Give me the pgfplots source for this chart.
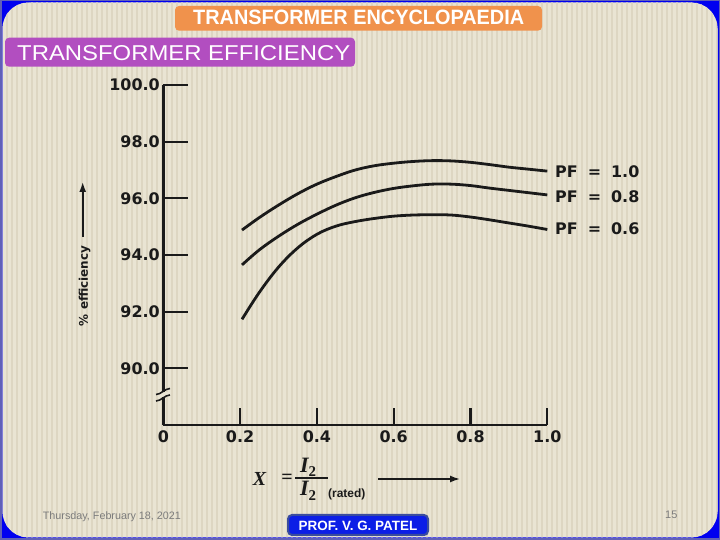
\documentclass[border=0pt]{standalone}
\usepackage{pgfplots}
\pgfplotsset{compat=1.18}
\usepackage{fontspec}
\setmainfont{Liberation Sans}
\newfontfamily\dvs{DejaVu Sans}
\newfontfamily\serif{Liberation Serif}
\usetikzlibrary{arrows.meta}
\definecolor{beige}{HTML}{E9E4D3}
\definecolor{stripe}{HTML}{DDD6C2}
\definecolor{frameblue}{HTML}{0000F0}
\definecolor{slate}{HTML}{6060B8}
\definecolor{orangebox}{HTML}{F0924C}
\definecolor{purplebox}{HTML}{B24EC0}
\definecolor{footblue}{HTML}{0C1EE6}
\definecolor{footedge}{HTML}{3A4C9E}
\definecolor{ink}{HTML}{1A1A1A}
\definecolor{dategray}{HTML}{7C7C7C}

\pgfplotstableread{
x y
0.205 94.88
0.25 95.32
0.30 95.76
0.35 96.16
0.40 96.50
0.45 96.77
0.50 97.00
0.55 97.15
0.60 97.24
0.65 97.30
0.70 97.33
0.75 97.32
0.80 97.27
0.85 97.19
0.90 97.10
0.95 97.03
1.00 96.96
}\pfone
\pgfplotstableread{
x y
0.205 93.65
0.25 94.18
0.30 94.66
0.35 95.08
0.40 95.44
0.45 95.76
0.50 96.02
0.55 96.21
0.60 96.35
0.65 96.44
0.70 96.50
0.75 96.50
0.80 96.45
0.85 96.36
0.90 96.28
0.95 96.20
1.00 96.12
}\pfeight
\pgfplotstableread{
x y
0.205 91.73
0.25 92.68
0.30 93.57
0.35 94.25
0.40 94.73
0.45 95.02
0.50 95.18
0.55 95.29
0.60 95.37
0.65 95.41
0.70 95.42
0.75 95.41
0.80 95.34
0.85 95.24
0.90 95.13
0.95 95.02
1.00 94.90
}\pfsix

\newcommand{\Itwo}{{\serif\bfseries\itshape I}\raisebox{-4.5bp}{\serif\bfseries\fontsize{15}{15}\selectfont 2}}

\begin{document}
\begin{tikzpicture}[x=1bp,y=1bp]
\useasboundingbox (0,0) rectangle (720,540);
% slide frame
\fill[slate] (0,0) rectangle (720,540);
\fill[frameblue] (1.5,1.5) rectangle (718.5,538.5);
\begin{scope}
\clip[rounded corners=26bp] (2.5,2.5) rectangle (717.5,537.5);
\fill[beige] (0,0) rectangle (720,540);
\foreach \i in {0,...,143} {\fill[stripe] (\i*5+1,0) rectangle ++(2,540);}
\end{scope}
% header boxes
\fill[orangebox, rounded corners=4bp] (175,509.3) rectangle (542,534);
\node[anchor=base west, inner sep=0pt, text=white] at (193,515) {\resizebox{331bp}{14.5bp}{\bfseries TRANSFORMER ENCYCLOPAEDIA}};
\fill[purplebox, rounded corners=4bp] (5,473.3) rectangle (355,502.3);
\node[anchor=base west, inner sep=0pt, text=white] at (17,479.5) {\resizebox{333bp}{15bp}{TRANSFORMER EFFICIENCY}};
% footer
\node[anchor=base west, inner sep=0pt, text=dategray, font=\fontsize{11}{12}\selectfont] at (42.7,20.5) {\resizebox{138bp}{!}{Thursday, February 18, 2021}};
\node[anchor=base west, inner sep=0pt, text=dategray, font=\fontsize{11}{12}\selectfont] at (665,21) {15};
\draw[footedge, line width=2bp, fill=footblue, rounded corners=4bp] (288,5) rectangle (428,25);
\node[anchor=base, inner sep=0pt, text=white, font=\bfseries\fontsize{13.5}{14}\selectfont] at (358,9.3) {PROF. V. G. PATEL};

\begin{axis}[
  at={(163.3bp,115bp)}, anchor=south west,
  scale only axis, width=384bp, height=340bp,
  xmin=0, xmax=1, ymin=88, ymax=100,
  axis x line*=bottom, axis y line*=left,
  axis line style={-, line width=2.6bp, ink},
  xtick={0,0.2,0.4,0.6,0.8,1.0},
  xticklabels={0,0.2,0.4,0.6,0.8,1.0},
  ytick={90,92,94,96,98,100},
  tick align=inside,
  major tick length=25bp,
  xtick style={/pgfplots/major tick length=17bp, line width=2.2bp, ink},
  ytick style={line width=1.8bp, ink},
  tick label style={font=\dvs\bfseries\fontsize{16}{16}\selectfont, text=ink},
  yticklabel style={/pgf/number format/.cd, fixed, fixed zerofill, precision=1, assume math mode=true},
  xticklabel style={yshift=-2bp},
  clip=false,
]
\addplot[ink, line width=2.8bp, smooth, tension=0.6] table[x=x,y=y] {\pfone};
\addplot[ink, line width=2.8bp, smooth, tension=0.6] table[x=x,y=y] {\pfeight};
\addplot[ink, line width=2.8bp, smooth, tension=0.6] table[x=x,y=y] {\pfsix};
\end{axis}

% axis break
\fill[beige] (158,143) rectangle (169,147.5);
\draw[ink, line width=1.6bp] (156,139) .. controls (161,139) and (165,145) .. (170,145);
\draw[ink, line width=1.6bp] (156,145.5) .. controls (161,145.5) and (165,151.5) .. (170,151.5);

% curve labels
\node[anchor=west, inner sep=0pt, text=ink, font=\dvs\bfseries\fontsize{16}{16}\selectfont] at (555,368.5) {PF\hspace{10bp}=\hspace{10bp}1.0};
\node[anchor=west, inner sep=0pt, text=ink, font=\dvs\bfseries\fontsize{16}{16}\selectfont] at (555,343.3) {PF\hspace{10bp}=\hspace{10bp}0.8};
\node[anchor=west, inner sep=0pt, text=ink, font=\dvs\bfseries\fontsize{16}{16}\selectfont] at (555,311) {PF\hspace{10bp}=\hspace{10bp}0.6};

% y label
\node[rotate=90, text=ink, font=\dvs\bfseries\fontsize{12}{13}\selectfont, inner sep=0pt] at (84.5,254) {\% efficiency};
\draw[ink, line width=1.6bp, -{Latex[length=10bp,width=7bp]}] (82.7,303) -- (82.7,358);

% x label
\node[inner sep=0pt, text=ink, font=\serif\bfseries\itshape\fontsize{20}{21}\selectfont] at (259.5,61) {X};
\node[inner sep=0pt, text=ink, font=\serif\bfseries\fontsize{20}{21}\selectfont] at (287,61.5) {=};
\node[inner sep=0pt, text=ink, font=\fontsize{22}{23}\selectfont] at (308,72.5) {\Itwo};
\draw[ink, line width=1.5bp] (295,62) -- (328,62);
\node[inner sep=0pt, text=ink, font=\fontsize{22}{23}\selectfont] at (308,49) {\Itwo};
\node[anchor=west, inner sep=0pt, text=ink, font=\bfseries\fontsize{12}{13}\selectfont] at (328,46) {(rated)};
\draw[ink, line width=1.6bp, -{Latex[length=10bp,width=7bp]}] (378,61) -- (460,61);
\end{tikzpicture}
\end{document}
